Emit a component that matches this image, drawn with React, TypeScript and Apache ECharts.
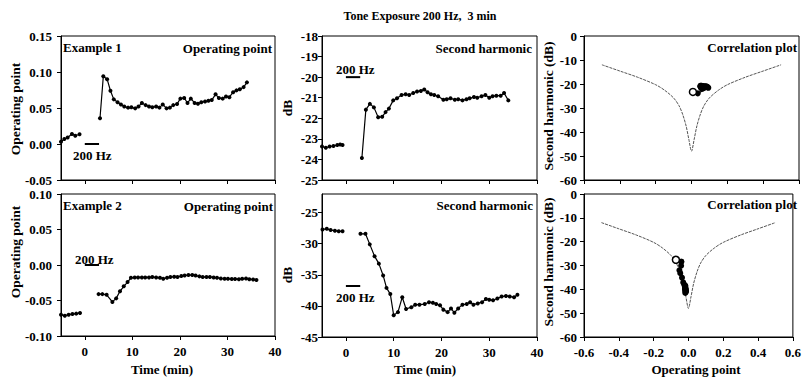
import React, { useEffect, useRef } from 'react';
import * as echarts from 'echarts';

const FONT = 'Liberation Serif';

// ---------- Example 1 : operating point ----------
const tOp1Pre = [-5.0, -4.3, -3.6, -2.7, -2.0, -1.1];
const op1Pre = [0.003, 0.007, 0.009, 0.014, 0.0115, 0.0135];
const tOp1Post = [3.2, 3.9, 4.7, 5.4, 6.1, 6.9, 7.6, 8.3, 9.1, 9.8, 10.6, 11.3, 12.0, 12.8, 13.5, 14.2, 15.0, 15.7, 16.4, 17.2, 17.9, 18.6, 19.4, 20.1, 20.9, 21.6, 22.3, 23.1, 23.8, 24.5, 25.3, 26.0, 26.7, 27.5, 28.2, 29.0, 29.7, 30.4, 31.2, 31.9, 32.6, 33.4, 34.1];
const op1Post = [0.0357, 0.094, 0.090, 0.074, 0.062, 0.058, 0.055, 0.052, 0.0505, 0.051, 0.0495, 0.052, 0.057, 0.054, 0.052, 0.051, 0.052, 0.0505, 0.055, 0.0495, 0.0505, 0.054, 0.0556, 0.063, 0.064, 0.057, 0.063, 0.057, 0.056, 0.058, 0.059, 0.060, 0.061, 0.069, 0.064, 0.063, 0.066, 0.065, 0.072, 0.0745, 0.076, 0.079, 0.0856];

// ---------- Example 1 : second harmonic ----------
const tSh1Pre = [-5.0, -4.2, -3.4, -2.6, -1.8, -1.2, -0.7];
const sh1Pre = [-23.37, -23.43, -23.37, -23.35, -23.3, -23.27, -23.3];
const tSh1Post = [3.35, 4.18, 5.02, 5.86, 6.76, 7.6, 8.3, 9.0, 9.9, 10.7, 11.65, 12.5, 13.25, 14.1, 14.9, 15.7, 16.4, 17.1, 17.8, 18.5, 19.3, 20.4, 21.1, 21.9, 22.8, 23.5, 24.4, 25.25, 25.9, 26.8, 27.5, 28.4, 29.2, 30.0, 30.7, 31.5, 32.4, 33.1, 34.0];
const sh1Post = [-23.93, -21.58, -21.3, -21.47, -21.95, -21.93, -21.7, -21.53, -21.13, -21.03, -20.87, -20.83, -20.87, -20.77, -20.7, -20.67, -20.6, -20.73, -20.83, -20.87, -20.93, -21.1, -21.07, -21.03, -21.1, -21.07, -21.13, -21.07, -21.03, -20.97, -21.0, -20.93, -20.87, -21.0, -20.93, -20.9, -20.9, -20.77, -21.13];

// ---------- Example 2 : operating point ----------
const tOp2Pre = [-5.0, -4.2, -3.4, -2.6, -1.8, -1.0];
const op2Pre = [-0.070, -0.0715, -0.070, -0.069, -0.0685, -0.0675];
const tOp2Post = [2.9, 3.7, 4.6, 5.8, 6.6, 7.4, 8.2, 9.0, 9.7, 10.5, 11.2, 12.0, 12.7, 13.5, 14.2, 15.0, 15.8, 16.5, 17.3, 18.0, 18.8, 19.5, 20.3, 21.0, 21.8, 22.6, 23.3, 24.1, 24.8, 25.6, 26.3, 27.1, 27.8, 28.6, 29.4, 30.1, 30.9, 31.6, 32.4, 33.1, 33.9, 34.6, 35.4, 36.1];
const op2Post = [-0.041, -0.041, -0.042, -0.052, -0.047, -0.037, -0.030, -0.024, -0.018, -0.0175, -0.0175, -0.0175, -0.0175, -0.0175, -0.017, -0.0175, -0.018, -0.0195, -0.018, -0.017, -0.0165, -0.017, -0.0155, -0.0148, -0.0142, -0.0142, -0.0148, -0.016, -0.017, -0.0168, -0.017, -0.0175, -0.018, -0.019, -0.0195, -0.0195, -0.0198, -0.0198, -0.020, -0.0195, -0.019, -0.020, -0.0205, -0.021];

// ---------- Example 2 : second harmonic ----------
const tSh2Pre = [-4.9, -4.0, -3.2, -2.3, -1.5, -0.7];
const sh2Pre = [-27.7, -27.6, -27.8, -27.9, -28.0, -28.0];
const tSh2Post = [3.05, 4.1, 5.0, 6.0, 6.9, 7.8, 8.5, 9.3, 10.0, 10.9, 11.8, 12.6, 13.7, 14.5, 15.4, 16.5, 17.4, 18.2, 18.9, 19.7, 20.4, 21.3, 22.0, 22.7, 23.5, 24.4, 25.3, 26.0, 26.7, 27.6, 28.5, 29.3, 30.0, 30.8, 31.7, 32.6, 33.5, 34.3, 35.2, 35.9];
const sh2Post = [-28.4, -28.4, -30.1, -32.0, -33.2, -35.1, -37.1, -38.1, -41.5, -41.0, -38.6, -40.5, -40.2, -39.8, -39.8, -39.7, -39.4, -39.5, -39.7, -39.9, -40.6, -41.0, -40.4, -41.1, -40.4, -39.8, -39.7, -39.4, -39.8, -39.6, -39.4, -38.9, -39.0, -39.1, -38.8, -38.5, -38.4, -38.5, -38.6, -38.2];

// ---------- Exposure bars (200 Hz, 0–3 min) ----------
const exposureT = [0, 3];
const barOp1 = 0.0;
const barSh1 = -20.0;
const barOp2 = 0.0;
const barSh2 = -36.8;

// ---------- Correlation plots ----------
const curveX = [-0.5, -0.4, -0.3, -0.2, -0.15, -0.1, -0.07, -0.05, -0.03, -0.015, 0, 0.015, 0.03, 0.05, 0.07, 0.1, 0.15, 0.2, 0.3, 0.4, 0.5];
const curveY = [-12, -14.6, -17.2, -20.3, -22.6, -25.8, -29, -32.5, -37.5, -43, -48, -43, -37.5, -32.5, -29, -25.8, -22.6, -20.3, -17.2, -14.6, -12];

const corr1PreOp = 0.008;
const corr1PreSh = -23.3;
const corr1Op = [0.035, 0.094, 0.090, 0.074, 0.062, 0.058, 0.055, 0.052, 0.051, 0.050, 0.052, 0.057, 0.054, 0.051, 0.055, 0.050, 0.063, 0.057, 0.060, 0.066, 0.072, 0.079, 0.086];
const corr1Sh = [-23.9, -21.6, -21.3, -21.5, -21.9, -21.9, -21.7, -21.5, -21.1, -21.0, -20.9, -20.8, -20.8, -20.7, -20.7, -20.9, -21.1, -21.0, -21.1, -21.0, -20.9, -20.9, -21.1];

const corr2PreOp = -0.072;
const corr2PreSh = -27.6;
const corr2Op = [-0.041, -0.041, -0.042, -0.052, -0.047, -0.037, -0.030, -0.024, -0.018, -0.0175, -0.0175, -0.0175, -0.017, -0.018, -0.0195, -0.017, -0.015, -0.014, -0.016, -0.017, -0.018, -0.0195, -0.020, -0.019, -0.021];
const corr2Sh = [-28.4, -28.4, -30.1, -32.0, -33.2, -35.1, -37.1, -38.1, -41.5, -41.0, -38.6, -40.5, -40.2, -39.8, -39.7, -39.5, -40.6, -41.0, -40.4, -39.7, -39.6, -38.9, -38.8, -38.5, -38.2];

// ---------- ticks ----------
const timeTicks = [0, 10, 20, 30, 40];
const opTicks = [-0.6, -0.4, -0.2, 0, 0.2, 0.4, 0.6];
const op1YTicks = [-0.05, 0, 0.05, 0.1, 0.15];
const sh1YTicks = [-25, -24, -23, -22, -21, -20, -19, -18];
const op2YTicks = [-0.1, -0.05, 0, 0.05, 0.1];
const sh2YTicks = [-45, -40, -35, -30, -25];
const corrYTicks = [-60, -50, -40, -30, -20, -10, 0];

const pairs = (xs: number[], ys: number[]) => xs.map((x, i) => [x, ys[i]]);

const grids = [
  { left: 61, top: 36, width: 214, height: 144 },
  { left: 322, top: 36, width: 215, height: 144 },
  { left: 584, top: 36, width: 215, height: 144 },
  { left: 61, top: 194, width: 214, height: 142 },
  { left: 322, top: 194, width: 215, height: 143 },
  { left: 584, top: 194, width: 215, height: 143 },
].map((g) => ({ ...g, show: true, borderColor: '#000', borderWidth: 1, backgroundColor: 'transparent' }));

const lineBlack = { color: '#000', width: 1 };

const fmtNum = (d: number) => (v: number) => {
  const r = Math.abs(v) < 1e-9 ? 0 : v;
  return '{t|' + r.toFixed(d) + '}';
};

const tickFont = { fontFamily: FONT, fontWeight: 'bold', fontSize: 13, color: '#000' };

const labelRich = (margin: number, formatter: (v: number) => string, show = true) => ({
  show,
  margin,
  formatter,
  ...tickFont,
  rich: { t: { ...tickFont } },
});

function xAxis(gi: number, kind: 'time' | 'op', showLabels: boolean) {
  const ticks = kind === 'time' ? timeTicks : opTicks;
  return {
    type: 'value',
    gridIndex: gi,
    min: kind === 'time' ? -5 : -0.6,
    max: kind === 'time' ? 40 : 0.6,
    axisLine: { show: true, onZero: false, lineStyle: lineBlack },
    axisTick: { show: true, inside: false, length: 4, customValues: ticks, lineStyle: lineBlack },
    axisLabel: {
      ...labelRich(9, kind === 'time' ? fmtNum(0) : fmtNum(1), showLabels),
      customValues: ticks,
    },
    splitLine: { show: false },
  };
}

function yAxis(gi: number, min: number, max: number, ticks: number[], dec: number, margin: number) {
  return {
    type: 'value',
    gridIndex: gi,
    min,
    max,
    axisLine: { show: true, onZero: false, lineStyle: lineBlack },
    axisTick: { show: true, inside: false, length: 4, customValues: ticks, lineStyle: lineBlack },
    axisLabel: { ...labelRich(margin, fmtNum(dec)), customValues: ticks },
    splitLine: { show: false },
  };
}

function timeLine(gi: number, xs: number[], ys: number[]) {
  return {
    type: 'line',
    xAxisIndex: gi,
    yAxisIndex: gi,
    data: pairs(xs, ys),
    symbol: 'circle',
    symbolSize: 4,
    showSymbol: true,
    lineStyle: { color: '#000', width: 1.2 },
    itemStyle: { color: '#000', opacity: 1 },
    silent: true,
    z: 3,
  };
}

function barLine(gi: number, y: number) {
  return {
    type: 'line',
    xAxisIndex: gi,
    yAxisIndex: gi,
    data: exposureT.map((t) => [t, y]),
    symbol: 'none',
    lineStyle: { color: '#000', width: 2 },
    silent: true,
    z: 3,
  };
}

function curveLine(gi: number) {
  return {
    type: 'line',
    xAxisIndex: gi,
    yAxisIndex: gi,
    data: pairs(curveX, curveY),
    symbol: 'none',
    smooth: 0.3,
    lineStyle: { color: '#555', width: 1, type: [3, 1] },
    silent: true,
    z: 2,
  };
}

function corrLine(gi: number, preX: number, preY: number, xs: number[], ys: number[]) {
  return [
    {
      type: 'line',
      xAxisIndex: gi,
      yAxisIndex: gi,
      data: [[preX, preY], ...pairs(xs, ys)],
      symbol: 'circle',
      symbolSize: 6,
      lineStyle: { color: '#000', width: 1.2 },
      itemStyle: { color: '#000', opacity: 1 },
      silent: true,
      z: 3,
    },
    {
      type: 'scatter',
      xAxisIndex: gi,
      yAxisIndex: gi,
      data: [[preX, preY]],
      symbol: 'circle',
      symbolSize: 7,
      itemStyle: { color: '#ffffff', borderColor: '#000', borderWidth: 1.5, opacity: 1 },
      silent: true,
      z: 5,
    },
  ];
}

const txt = (text: string, x: number, y: number, align: string, size = 13, rot = 0) => ({
  type: 'text',
  x,
  y,
  rotation: rot,
  silent: true,
  style: {
    text,
    fill: '#000',
    font: `bold ${size}px ${FONT}`,
    textAlign: align,
    textVerticalAlign: 'middle',
  },
});

const V = Math.PI / 2;

const option = {
  animation: false,
  backgroundColor: '#fff',
  textStyle: { fontFamily: FONT, fontWeight: 'bold', color: '#000' },
  grid: grids,
  xAxis: [
    xAxis(0, 'time', false),
    xAxis(1, 'time', false),
    xAxis(2, 'op', false),
    xAxis(3, 'time', true),
    xAxis(4, 'time', true),
    xAxis(5, 'op', true),
  ],
  yAxis: [
    yAxis(0, -0.05, 0.15, op1YTicks, 2, 9),
    yAxis(1, -25, -18, sh1YTicks, 0, 4),
    yAxis(2, -60, 0, corrYTicks, 0, 7),
    yAxis(3, -0.1, 0.1, op2YTicks, 2, 9),
    yAxis(4, -45, -22, sh2YTicks, 0, 4),
    yAxis(5, -60, 0, corrYTicks, 0, 7),
  ],
  series: [
    timeLine(0, tOp1Pre, op1Pre),
    timeLine(0, tOp1Post, op1Post),
    barLine(0, barOp1),
    timeLine(1, tSh1Pre, sh1Pre),
    timeLine(1, tSh1Post, sh1Post),
    barLine(1, barSh1),
    curveLine(2),
    ...corrLine(2, corr1PreOp, corr1PreSh, corr1Op, corr1Sh),
    timeLine(3, tOp2Pre, op2Pre),
    timeLine(3, tOp2Post, op2Post),
    barLine(3, barOp2),
    timeLine(4, tSh2Pre, sh2Pre),
    timeLine(4, tSh2Post, sh2Post),
    barLine(4, barSh2),
    curveLine(5),
    ...corrLine(5, corr2PreOp, corr2PreSh, corr2Op, corr2Sh),
  ],
  graphic: [
    txt('Tone Exposure 200 Hz,  3 min', 420, 16, 'center', 12),
    txt('Example 1', 63, 47, 'left'),
    txt('Operating point', 272, 48, 'right'),
    txt('200 Hz', 73, 155, 'left'),
    txt('Second harmonic', 532, 48, 'right'),
    txt('200 Hz', 336, 69, 'left'),
    txt('Correlation plot', 797, 47, 'right'),
    txt('Example 2', 63, 205, 'left'),
    txt('Operating point', 273, 206, 'right'),
    txt('200 Hz', 75, 259, 'left'),
    txt('Second harmonic', 533, 205, 'right'),
    txt('200 Hz', 336, 297, 'left'),
    txt('Correlation plot', 797, 204, 'right'),
    txt('Operating point', 15, 109, 'center', 13.5, V),
    txt('Operating point', 15, 252, 'center', 13.5, V),
    txt('dB', 287, 108, 'center', 13.5, V),
    txt('dB', 287, 275, 'center', 13.5, V),
    txt('Second harmonic (dB)', 548, 106, 'center', 13.5, V),
    txt('Second harmonic (dB)', 548, 262, 'center', 13.5, V),
    txt('Time (min)', 162, 369, 'center', 13),
    txt('Time (min)', 425, 369, 'center', 13),
    txt('Operating point', 696, 369, 'center', 13),
  ],
};

export default function App() {
  const ref = useRef<HTMLDivElement>(null);
  useEffect(() => {
    const chart = echarts.init(ref.current as HTMLDivElement, null, { renderer: 'svg' });
    chart.setOption(option as any);
    return () => chart.dispose();
  }, []);
  return (
    <div
      ref={ref}
      style={{ position: 'absolute', left: 0, top: 0, width: 804, height: 379, background: '#fff' }}
    />
  );
}
